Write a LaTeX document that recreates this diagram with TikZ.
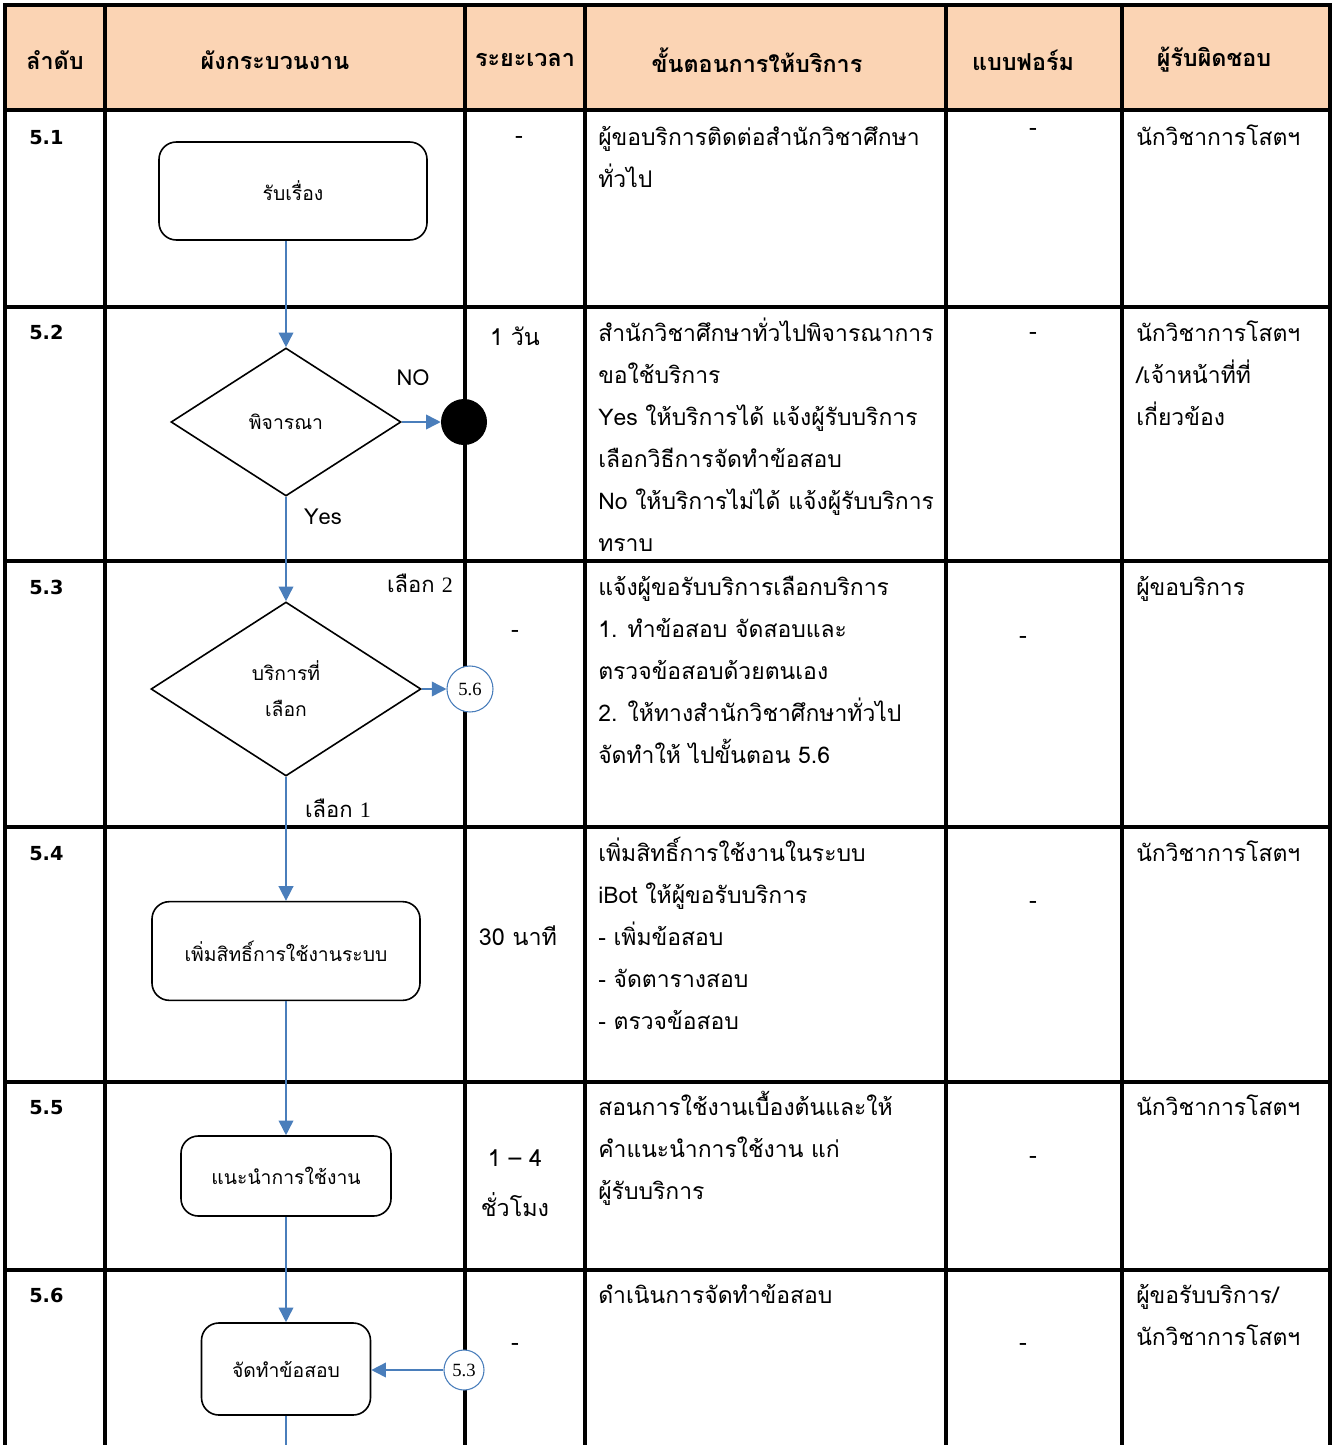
\documentclass[tikz,border=0pt]{standalone}
\usepackage{fontspec}
\newfontfamily\thai[Script=Thai]{Loma}
\newfontfamily\numfont{DejaVu Sans}
\newfontfamily\serif{Liberation Serif}
\usetikzlibrary{shapes.geometric,arrows.meta}
\definecolor{headfill}{HTML}{FBD4B4}
\definecolor{linkblue}{HTML}{4A7EBB}
\tikzset{
  grid line/.style = {line width=2.4pt, line cap=rect},
  head/.style = {font=\thai\bfseries\fontsize{17.5}{20}\selectfont},
  num/.style = {font=\numfont\bfseries\fontsize{14.5}{17}\selectfont, anchor=base west, inner sep=0pt},
  desc/.style = {font=\thai\fontsize{17.2}{21}\selectfont, anchor=base west, inner sep=0pt},
  mid/.style = {font=\thai\fontsize{17.5}{21}\selectfont, inner sep=0pt},
  procbox/.style = {draw, rounded corners=13pt, line width=1.2pt, font=\thai\fontsize{14.5}{17}\selectfont},
  decide/.style = {draw, diamond, line width=1.2pt, inner sep=0pt, align=center,
                   font=\thai\fontsize{14.5}{27}\selectfont},
  link/.style = {draw=linkblue, line width=1.2pt, -{Triangle[length=11pt,width=11pt]}},
  onpage/.style = {circle, draw=linkblue, fill=white, line width=0.8pt, inner sep=0pt,
                   font=\serif\fontsize{14}{16}\selectfont},
  tag/.style = {font=\thai\fontsize{16.5}{19}\selectfont, inner sep=0pt}
}
\begin{document}
\begin{tikzpicture}[x=0.75pt, y=-0.75pt]
  \useasboundingbox (0,0) rectangle (1335,1445);
  \fill[headfill] (5,5) rectangle (1330,110);
  \foreach \x in {5,105,465,585,946,1122,1330}
    \draw[grid line] (\x,5) -- (\x,1445);
  \foreach \y in {5,110,307,561,827,1082,1270}
    \draw[grid line] (5,\y) -- (1330,\y);

  \node[head] (h-no)   at (55,60)   {ลำดับ};
  \node[head] (h-flow) at (275,60)  {ผังกระบวนงาน};
  \node[head] (h-time) at (525,60)  {ระยะเวลา};
  \node[head] (h-step) at (757,60)  {ขั้นตอนการให้บริการ};
  \node[head] (h-form) at (1023,60) {แบบฟอร์ม};
  \node[head] (h-resp) at (1214,60) {ผู้รับผิดชอบ};

  \foreach \n/\y in {1/144,2/339,3/594,4/860,5/1114,6/1302}
    \node[num] (no-\n) at (29,\y) {5.\n};

  \node[mid] (t1) at (519,140) {-};
  \node[mid] (t2) at (515,336) {1 วัน};
  \node[mid] (t3) at (515,634) {-};
  \node[mid] (t4) at (518,936) {30 นาที};
  \node[mid] (t5a) at (515,1158) {1 – 4};
  \node[mid] (t5b) at (515,1205) {ชั่วโมง};
  \node[mid] (t6) at (515,1347) {-};

  \foreach \n/\x/\y in {1/1033/132,2/1033/336,3/1023/640,4/1033/905,5/1033/1160,6/1023/1347}
    \node[mid] (f-\n) at (\x,\y) {-};

  \foreach \t [count=\i] in {ผู้ขอบริการติดต่อสำนักวิชาศึกษา, ทั่วไป}
    \node[desc] (s1-\i) at (598,145+42*\i-42) {\t};
  \foreach \t [count=\i] in {สำนักวิชาศึกษาทั่วไปพิจารณาการ, ขอใช้บริการ,
      Yes ให้บริการได้ แจ้งผู้รับบริการ, เลือกวิธีการจัดทำข้อสอบ,
      No ให้บริการไม่ได้ แจ้งผู้รับบริการ, ทราบ}
    \node[desc] (s2-\i) at (598,341+42*\i-42) {\t};
  \foreach \t [count=\i] in {แจ้งผู้ขอรับบริการเลือกบริการ, 1. ทำข้อสอบ จัดสอบและ,
      ตรวจข้อสอบด้วยตนเอง, 2. ให้ทางสำนักวิชาศึกษาทั่วไป, จัดทำให้ ไปขั้นตอน 5.6}
    \node[desc] (s3-\i) at (598,595+42*\i-42) {\t};
  \foreach \t [count=\i] in {เพิ่มสิทธิ์การใช้งานในระบบ, iBot ให้ผู้ขอรับบริการ,
      - เพิ่มข้อสอบ, - จัดตารางสอบ, - ตรวจข้อสอบ}
    \node[desc] (s4-\i) at (598,861+42*\i-42) {\t};
  \foreach \t [count=\i] in {สอนการใช้งานเบื้องต้นและให้, คำแนะนำการใช้งาน แก่, ผู้รับบริการ}
    \node[desc] (s5-\i) at (598,1115+42*\i-42) {\t};
  \node[desc] (s6-1) at (598,1303) {ดำเนินการจัดทำข้อสอบ};

  \node[desc] (r1) at (1136,145) {นักวิชาการโสตฯ};
  \foreach \t [count=\i] in {นักวิชาการโสตฯ, /เจ้าหน้าที่ที่, เกี่ยวข้อง}
    \node[desc] (r2-\i) at (1136,341+42*\i-42) {\t};
  \node[desc] (r3) at (1136,595) {ผู้ขอบริการ};
  \node[desc] (r4) at (1136,861) {นักวิชาการโสตฯ};
  \node[desc] (r5) at (1136,1115) {นักวิชาการโสตฯ};
  \node[desc] (r6-1) at (1136,1303) {ผู้ขอรับบริการ/};
  \node[desc] (r6-2) at (1136,1345) {นักวิชาการโสตฯ};

  \node[procbox, minimum width=201pt, minimum height=73.5pt] (receive) at (293,191) {รับเรื่อง};
  \node[decide, minimum width=172.5pt, minimum height=111pt] (consider) at (286,422) {พิจารณา};
  \node[circle, fill=black, inner sep=0pt, minimum size=34.5pt] (stop) at (464,422) {};
  \node[decide, minimum width=202.5pt, minimum height=130.5pt] (choice) at (286,689) {บริการที่\\เลือก};
  \node[onpage, minimum size=34.5pt] (go56) at (470,689) {5.6};
  \node[procbox, minimum width=201pt, minimum height=74pt] (grant) at (286,951) {เพิ่มสิทธิ์การใช้งานระบบ};
  \node[procbox, minimum width=157.5pt, minimum height=60pt] (advise) at (286,1176) {แนะนำการใช้งาน};
  \node[procbox, minimum width=126.75pt, minimum height=69pt] (prepare) at (286,1369) {จัดทำข้อสอบ};
  \node[onpage, minimum size=30pt] (from53) at (464,1370) {5.3};
  \coordinate (tail) at (286,1445);

  \node[tag] (l-no)  at (413,378) {NO};
  \node[tag] (l-yes) at (323,517) {Yes};
  \node[tag] (l-c2)  at (420,583) {เลือก {\serif 2}};
  \node[tag] (l-c1)  at (338,808) {เลือก {\serif 1}};

  \draw[link] (consider.north |- receive.south) -- (consider.north);
  \draw[link] (consider.east) -- (stop.west);
  \draw[link] (consider.south) -- (choice.north);
  \draw[link] (choice.east) -- (go56.west);
  \draw[link] (choice.south) -- (grant.north);
  \draw[link] (grant.south) -- (advise.north);
  \draw[link] (advise.south) -- (prepare.north);
  \draw[link] (from53.west) -- (prepare.east |- from53.west);
  \draw[draw=linkblue, line width=1.2pt] (prepare.south) -- (tail);
\end{tikzpicture}
\end{document}
